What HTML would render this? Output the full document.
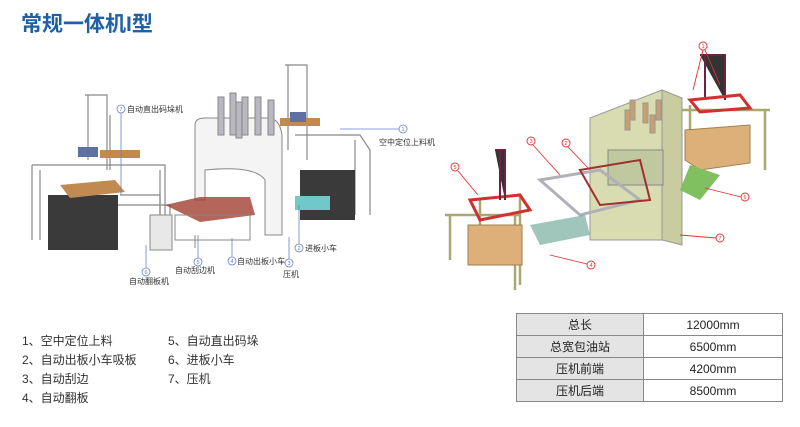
<!DOCTYPE html>
<html><head><meta charset="utf-8"><style>
body{margin:0;width:800px;height:427px;background:#fff;overflow:hidden;position:relative;font-family:"Liberation Sans","Noto Sans CJK SC",sans-serif}
.t{position:absolute;left:21px;top:8px;font-size:21px;font-weight:bold;color:#1f5fa6;letter-spacing:0px}
.l{position:absolute;font-size:12px;color:#333}
table{position:absolute;left:516px;top:313px;border-collapse:collapse;font-size:12px;color:#222}
td{border:1px solid #888;height:21px;text-align:center;padding:0}
td.a{background:#e4e4e4;width:126px}td.b{width:138px}
</style></head><body>
<div class="t">常规一体机I型</div>
<svg width="800" height="300" style="position:absolute;left:0;top:0" font-family="Liberation Sans,Noto Sans CJK SC,sans-serif" font-size="8" fill="#333">
<g stroke="#888" stroke-width="1.2" fill="none">
<path d="M85 95 H107 V170 M88 95 V160 M110 115 V170"/>
<path d="M32 165 H165 L165 250 M32 165 V240 M40 170 V240 M160 170 V245"/>
<path d="M285 65 H307 V160 M288 65 V150"/>
<path d="M295 135 H360 L370 150 V215 M355 140 V215"/>
<path d="M120 195 H160 V245 M118 205 H170 V240"/>
</g>
<rect x="48" y="195" width="70" height="55" fill="#3a3a3a"/>
<rect x="300" y="170" width="55" height="50" fill="#3a3a3a"/>
<path d="M60 185 L115 180 L125 192 L70 198Z" fill="#c08a50"/>
<rect x="100" y="150" width="40" height="8" fill="#c08a50"/>
<rect x="78" y="147" width="20" height="10" fill="#6070a0"/>
<rect x="280" y="118" width="40" height="8" fill="#c08a50"/>
<rect x="290" y="112" width="16" height="10" fill="#6070a0"/>
<path d="M195 125 Q195 118 205 118 H270 Q280 120 282 135 V235 H265 V180 Q255 165 205 170 V200 H195Z" fill="#f4f4f4" stroke="#888"/>
<g fill="#b8b8c0" stroke="#888"><rect x="218" y="97" width="6" height="38"/><rect x="230" y="93" width="6" height="42"/><rect x="242" y="97" width="6" height="38"/><rect x="255" y="97" width="6" height="38"/><rect x="268" y="100" width="6" height="35"/><rect x="236" y="102" width="6" height="36"/></g>
<path d="M165 205 L200 197 H250 L255 215 L200 222Z" fill="#a04030" opacity=".8"/>
<rect x="295" y="196" width="35" height="14" fill="#70c8c8"/>
<rect x="150" y="215" width="22" height="35" fill="#e8e8e8" stroke="#888"/>
<path d="M175 215 H250 V240 H175Z M195 235 V248" stroke="#888" fill="none"/>
<g fill="none" stroke="#6a7fd0" stroke-width=".8">
<circle cx="121" cy="109" r="4"/><path d="M121 113 V195"/>
<circle cx="403" cy="129" r="4"/><path d="M399 129 H340"/>
<circle cx="299" cy="248" r="4"/><path d="M299 244 V205"/>
<circle cx="289" cy="263" r="4"/><path d="M289 259 V237"/>
<circle cx="232" cy="261" r="4"/><path d="M232 257 V238"/>
<circle cx="198" cy="262" r="4"/><path d="M198 258 V235"/>
<circle cx="146" cy="272" r="4"/><path d="M146 268 V245"/>
</g>
<g font-size="5.5" fill="#6a7fd0" text-anchor="middle"><text x="121" y="111">7</text><text x="403" y="131">1</text><text x="299" y="250">2</text><text x="289" y="265">3</text><text x="232" y="263">4</text><text x="198" y="264">5</text><text x="146" y="274">6</text></g>
<text x="127" y="112">自动直出码垛机</text><text x="379" y="145">空中定位上料机</text>
<text x="305" y="251">进板小车</text><text x="283" y="277">压机</text><text x="237" y="264">自动出板小车</text>
<text x="175" y="273">自动刮边机</text><text x="129" y="284">自动翻板机</text>
<g stroke="#a8a870" stroke-width="2.5" fill="none">
<path d="M445 215 H520 M450 215 V260 M515 215 V290 M520 195 V285 M480 200 V225"/>
<path d="M660 110 H770 M765 110 V170 M700 130 H730 M690 105 V155"/>
</g>
<path d="M590 118 L662 90 V240 L590 240Z" fill="#d8dcb0" stroke="#999"/>
<path d="M662 90 L682 98 V245 L662 240Z" fill="#c8cca0" stroke="#999"/>
<rect x="608" y="150" width="55" height="35" fill="#c0c8a0" stroke="#888"/>
<g fill="#c8a070" stroke="#999"><rect x="630" y="100" width="5" height="20"/><rect x="643" y="103" width="5" height="20"/><rect x="656" y="100" width="5" height="20"/><rect x="625" y="110" width="5" height="20"/><rect x="650" y="115" width="5" height="18"/></g>
<path d="M468 225 H522 V265 H468Z" fill="#dcb078" stroke="#a08050"/>
<path d="M685 130 L750 125 V163 L700 170 L685 160Z" fill="#dcb078" stroke="#a08050"/>
<path d="M690 165 L720 175 L700 200 L680 190Z" fill="#80c060"/>
<path d="M540 180 L600 170 L640 200 L580 215Z" fill="none" stroke="#b0b0b8" stroke-width="3"/>
<path d="M580 170 L640 160 L650 200 L600 205Z" fill="none" stroke="#a03030" stroke-width="2"/>
<path d="M470 200 L520 195 L530 210 L480 220Z" fill="none" stroke="#d03030" stroke-width="3"/>
<path d="M530 225 L585 215 L590 235 L540 245Z" fill="#60a090" opacity=".6"/>
<path d="M495 150 H505 V200 M500 150 V200" stroke="#702040" stroke-width="2"/>
<path d="M700 55 H725 V100 M705 55 V100" stroke="#702040" stroke-width="2"/>
<path d="M690 100 L740 95 L750 108 L700 112Z" fill="none" stroke="#d03030" stroke-width="3"/>
<g fill="none" stroke="#e03030" stroke-width=".9">
<circle cx="703" cy="46" r="4"/><path d="M703 50 L693 90 M705 50 L720 85"/>
<circle cx="531" cy="141" r="4"/><path d="M533 145 L560 175"/>
<circle cx="566" cy="143" r="4"/><path d="M568 147 L590 170"/>
<circle cx="455" cy="167" r="4"/><path d="M458 171 L478 195"/>
<circle cx="745" cy="197" r="4"/><path d="M741 197 L705 188"/>
<circle cx="720" cy="238" r="4"/><path d="M716 238 L680 235"/>
<circle cx="591" cy="265" r="4"/><path d="M587 264 L550 255"/>
</g>
<g font-size="5.5" fill="#e03030" text-anchor="middle"><text x="703" y="48">1</text><text x="531" y="143">3</text><text x="566" y="145">2</text><text x="455" y="169">5</text><text x="745" y="199">6</text><text x="720" y="240">7</text><text x="591" y="267">4</text></g>
</svg>
<div class="l" style="left:22px;top:332px">1、空中定位上料</div>
<div class="l" style="left:22px;top:351px">2、自动出板小车吸板</div>
<div class="l" style="left:22px;top:370px">3、自动刮边</div>
<div class="l" style="left:22px;top:389px">4、自动翻板</div>
<div class="l" style="left:168px;top:332px">5、自动直出码垛</div>
<div class="l" style="left:168px;top:351px">6、进板小车</div>
<div class="l" style="left:168px;top:370px">7、压机</div>
<table>
<tr><td class="a">总长</td><td class="b">12000mm</td></tr>
<tr><td class="a">总宽包油站</td><td class="b">6500mm</td></tr>
<tr><td class="a">压机前端</td><td class="b">4200mm</td></tr>
<tr><td class="a">压机后端</td><td class="b">8500mm</td></tr>
</table>
</body></html>
